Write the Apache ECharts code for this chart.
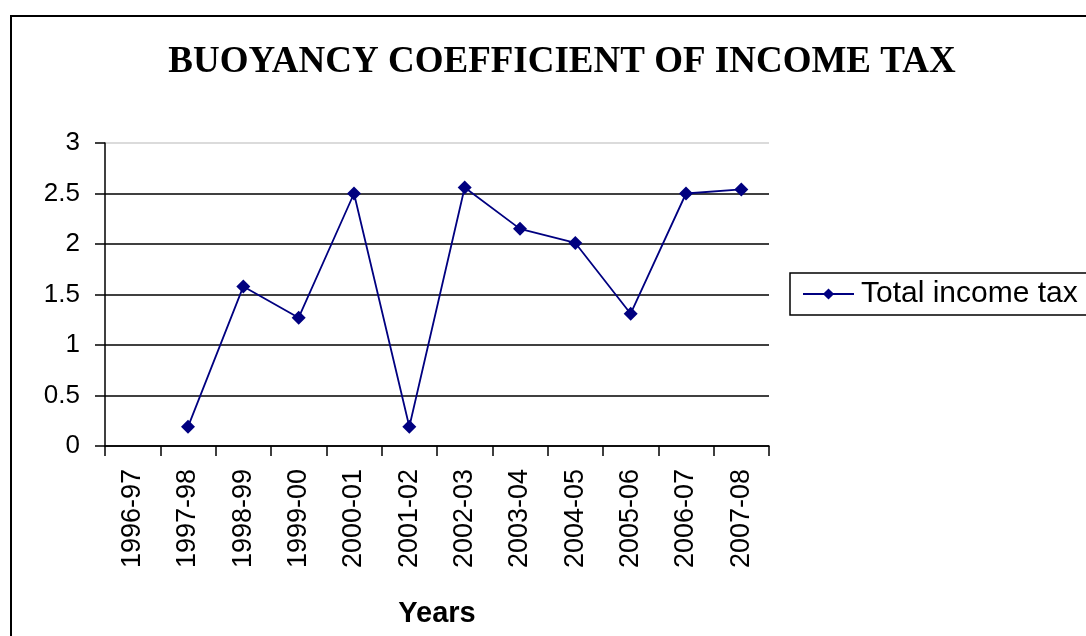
<!DOCTYPE html>
<html>
<head>
<meta charset="utf-8">
<script src="https://cdn.jsdelivr.net/npm/echarts@6/dist/echarts.min.js"></script>
<style>
  html, body { margin: 0; padding: 0; background: #fff; overflow: hidden; }
  #frame { position: absolute; left: 10px; top: 15px; right: -10px; bottom: -10px;
           border-left: 2px solid #000; border-top: 2px solid #000; }
  #chart { position: absolute; left: 0; top: 0; width: 1086px; height: 636px; }
</style>
</head>
<body>
<div id="frame"></div>
<div id="chart"></div>
<script>
// Data
const years = [
  "1996-97", "1997-98", "1998-99", "1999-00", "2000-01", "2001-02",
  "2002-03", "2003-04", "2004-05", "2005-06", "2006-07", "2007-08"
];
const totalIncomeTax = [null, 0.19, 1.58, 1.27, 2.5, 0.19, 2.56, 2.15, 2.01, 1.31, 2.5, 2.54];
const yTicks = [0, 0.5, 1, 1.5, 2, 2.5, 3];

const chart = echarts.init(document.getElementById("chart"));

const option = {
  animation: false,
  title: {
    text: "BUOYANCY COEFFICIENT OF INCOME TAX",
    left: 557,
    top: 39,
    textAlign: "center",
    textStyle: {
      fontFamily: "Liberation Serif",
      fontWeight: "bold",
      fontSize: 37,
      color: "#000"
    }
  },
  legend: {
    left: 790,
    top: 273,
    orient: "vertical",
    borderColor: "#000",
    borderWidth: 1.5,
    borderRadius: 0,
    padding: [6, 14, 6, 12],
    itemWidth: 51,
    itemHeight: 14,
    itemGap: 0,
    textStyle: { fontFamily: "Liberation Sans", fontSize: 30, color: "#000", padding: [0, 0, 0, 2] },
    data: ["Total income tax"]
  },
  grid: { left: 105, right: 317, top: 143, bottom: 190 },
  xAxis: {
    type: "category",
    data: years,
    boundaryGap: true,
    name: "Years",
    nameLocation: "middle",
    nameGap: 153,
    nameTextStyle: { fontFamily: "Liberation Sans", fontWeight: "bold", fontSize: 29, color: "#000" },
    axisLine: { lineStyle: { color: "#000", width: 1.5 } },
    axisTick: { show: true, length: 10, lineStyle: { color: "#000", width: 1.5 } },
    axisLabel: {
      rotate: 90,
      margin: 23,
      fontFamily: "Liberation Sans",
      fontSize: 27,
      color: "#000"
    },
    splitLine: { show: false }
  },
  yAxis: {
    type: "value",
    min: yTicks[0],
    max: yTicks[yTicks.length - 1],
    interval: 0.5,
    axisLine: { show: true, lineStyle: { color: "#000", width: 1.5 } },
    axisTick: { show: true, length: 10, lineStyle: { color: "#000", width: 1.5 } },
    axisLabel: {
      margin: 25,
      fontFamily: "Liberation Sans",
      fontSize: 26,
      color: "#000",
      formatter: v => String(v)
    },
    splitLine: {
      show: true,
      lineStyle: {
        color: ["#000", "#000", "#000", "#000", "#000", "#000", "#cfcfcf"],
        width: 1.5
      }
    }
  },
  series: [
    {
      name: "Total income tax",
      type: "line",
      data: totalIncomeTax,
      connectNulls: false,
      symbol: "diamond",
      symbolSize: 14,
      itemStyle: { color: "#000080" },
      lineStyle: { color: "#000080", width: 1.8 }
    }
  ]
};

chart.setOption(option);
</script>
</body>
</html>
